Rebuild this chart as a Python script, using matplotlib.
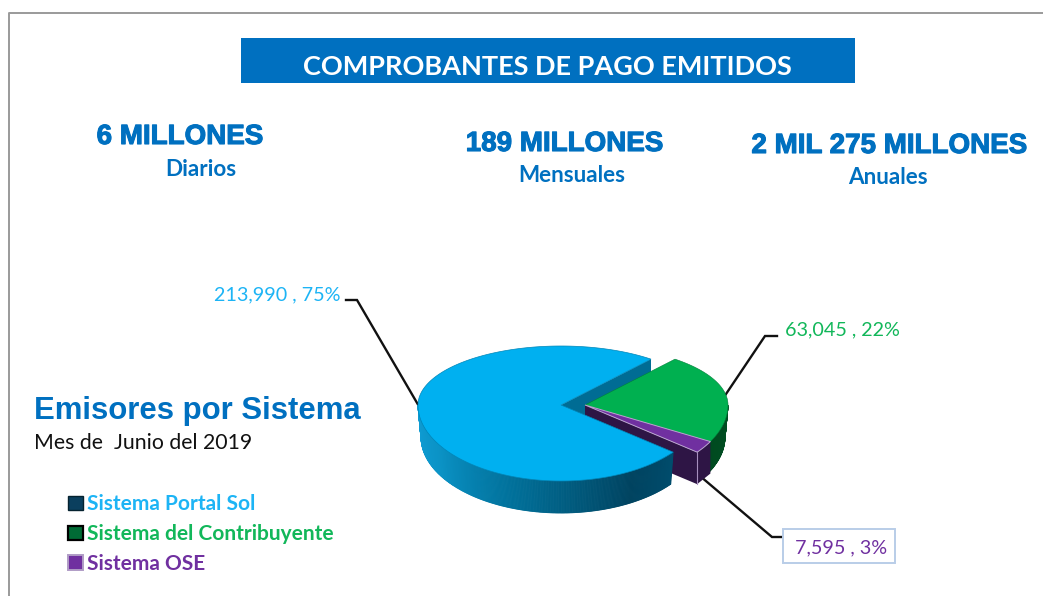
import numpy as np
import matplotlib
matplotlib.use("Agg")
import matplotlib.pyplot as plt
from matplotlib.colors import LinearSegmentedColormap
from matplotlib.patches import Polygon, Rectangle, Patch
import matplotlib.patheffects as pe

# ---- data ----
sistemas = ["Sistema Portal Sol", "Sistema del Contribuyente", "Sistema OSE"]
emisores = [213990, 63045, 7595]
porcentajes = [75, 22, 3]
titulo = "COMPROBANTES DE PAGO EMITIDOS"
cifras = ["6 MILLONES", "189 MILLONES", "2 MIL 275 MILLONES"]
periodos = ["Diarios", "Mensuales", "Anuales"]

# ---- style ----
AZUL = "#0070C0"
top_col = ["#00B0F0", "#00B050", "#7030A0"]
txt_col = ["#1DB4F5", "#12B75A", "#7030A0"]
CX, CY, RX, RT, RB, DEPTH = 561, 405, 143, 59, 76, 32
EXPLODE = 24
START = 51.0

fig = plt.figure(figsize=(10.43, 5.96), dpi=100, facecolor="white")
ax = fig.add_axes([0, 0, 1, 1])
ax.set_xlim(0, 1043)
ax.set_ylim(596, 0)
ax.axis("off")


def pt(theta, cx=CX, dz=0.0, rx=RX):
    t = np.radians(theta)
    s = np.sin(t)
    y = np.where(s >= 0, CY - RT * s, CY - RB * s)
    return np.column_stack([np.atleast_1d(cx + rx * np.cos(t)), np.atleast_1d(y + dz)])


def wedge(a, b, cx=CX):
    th = np.linspace(a, b, 200)
    return np.vstack([[cx, CY], pt(th, cx)])


def strips(a, b, cx, cmap, z, inset=0):
    th = np.linspace(a, b, int(abs(b - a)) * 2 + 2)
    top = pt(th, cx)
    bot = pt(th, cx, DEPTH, RX - inset)
    for i in range(len(th) - 1):
        c = cmap(i / (len(th) - 2))
        ax.add_patch(Polygon([top[i], top[i + 1], bot[i + 1], bot[i]],
                             closed=True, fc=c, ec=c, lw=0.6, zorder=z))


# angles from the values: clockwise contributor, OSE, portal
total = sum(emisores)
span = [v / total * 360 for v in emisores]
g0, g1 = START, START - span[1]
p0, p1 = g1, g1 - span[2]
b0, b1 = p1, p1 - span[0]
GX = CX + EXPLODE

# frame
ax.plot([9, 9, 1043], [596, 13, 13], color="#9A9A9A", lw=1.4, zorder=1)

# inner cut face of the blue slice
end = pt(START)[0]
ax.add_patch(Polygon([[CX, CY], end, end + [0, DEPTH], [CX, CY + DEPTH]],
                     closed=True, fc="#006C94", ec="none", zorder=2))

# leader lines (under the pie)
lead = dict(color="#111111", lw=1.7, zorder=2, solid_joinstyle="miter")
ax.plot([346, 357, 420], [300, 300, 408], **lead)
ax.plot([724, 765, 777], [397, 336, 336], **lead)
ax.plot([700, 772, 783], [476, 537, 537], **lead)

# green slice
strips(0, g1, GX, LinearSegmentedColormap.from_list("g", ["#004F22", "#004A20"]), 3, inset=3)
ax.add_patch(Polygon(wedge(g0, g1, GX), closed=True, fc=top_col[1], ec="#00803A", lw=0.4, zorder=4))

# purple slice
pa = pt(p1, GX)[0]
pb = pt(p0, GX)[0]
apex = np.array([GX, CY])
ax.add_patch(Polygon([apex, pa, pa + [0, DEPTH], apex + [0, DEPTH]],
                     closed=True, fc="#2E1545", ec="none", zorder=5))
ax.add_patch(Polygon([pa, pb, pb + [0, DEPTH], pa + [0, DEPTH]],
                     closed=True, fc="#2E1545", ec="none", zorder=5))
ax.add_patch(Polygon(wedge(p0, p1, GX), closed=True, fc=top_col[2], ec="#B9A3CF", lw=0.7, zorder=6))
ax.plot([pa[0], pa[0]], [pa[1], pa[1] + DEPTH], color="#A78FBE", lw=0.8, zorder=6)

# blue slice
cm = LinearSegmentedColormap.from_list(
    "b", [(0, "#0F9ED6"), (0.22, "#0B93C6"), (0.5, "#00709A"), (0.85, "#004360"), (1, "#004C6C")])
strips(-180, b0, CX, cm, 7, inset=3)
ax.add_patch(Polygon(wedge(b0, b1, CX), closed=True, fc=top_col[0], ec="#0086B8", lw=0.5, zorder=8))

# title band
ax.add_patch(Rectangle((241, 38), 614, 45, fc=AZUL, ec="none", zorder=2))
ax.text(547.5, 67, titulo, color="white", fontsize=19.5, fontweight="bold",
        family="Lato", ha="center", va="center", zorder=3)

# headline figures
head_x = [180, 564.5, 889.5]
head_y = [137, 144, 146]
sub_x = [201, 571.5, 888]
sub_y = [169, 175, 177]
for c, p, hx, hy, sx, sy in zip(cifras, periodos, head_x, head_y, sub_x, sub_y):
    t = ax.text(hx, hy, c, color=AZUL, fontsize=20, fontweight="bold",
                family="Liberation Sans", ha="center", va="center", zorder=3)
    t.set_path_effects([pe.withStroke(linewidth=0.8, foreground=AZUL)])
    ax.text(sx, sy, p, color=AZUL, fontsize=16.2, fontweight="bold",
            family="Lato", ha="center", va="center", zorder=3)

# left block
ax.text(34, 411, "Emisores por Sistema", color=AZUL, fontsize=22.4, fontweight="bold",
        family="Liberation Sans", ha="left", va="center", zorder=3)
ax.text(34, 443, "Mes de  Junio del 2019", color="#111111", fontsize=15.3,
        family="Lato", ha="left", va="center", zorder=3)

# data labels
etq = [f"{v:,} , {p}%" for v, p in zip(emisores, porcentajes)]
ax.text(341, 295, etq[0], color=txt_col[0], fontsize=14.2, family="Lato",
        ha="right", va="center", zorder=3)
ax.text(785, 330, etq[1], color=txt_col[1], fontsize=14.2, family="Lato",
        ha="left", va="center", zorder=3)
ax.add_patch(Rectangle((783, 529), 112, 34, fc="white", ec="#B9CDE8", lw=1.4, zorder=3))
ax.text(841, 548, etq[2], color=txt_col[2], fontsize=14.2, family="Lato",
        ha="center", va="center", zorder=4)

# legend
handles = [Patch(fc="#0B3F5E", ec="#05222F", lw=1),
           Patch(fc="#006B35", ec="#000000", lw=1.6),
           Patch(fc="#7030A0", ec="#B09CC6", lw=1.4)]
leg = ax.legend(handles, sistemas, loc="upper left", bbox_to_anchor=(60 / 1043, 1 - 486 / 596),
                frameon=False, handlelength=0.7, handleheight=0.7, handletextpad=0.2,
                labelspacing=0.47, borderpad=0.4, borderaxespad=0,
                prop=dict(family="Lato", weight="bold", size=15))
for t, c in zip(leg.get_texts(), txt_col):
    t.set_color(c)

fig.savefig("out.png", dpi=100, facecolor="white")
